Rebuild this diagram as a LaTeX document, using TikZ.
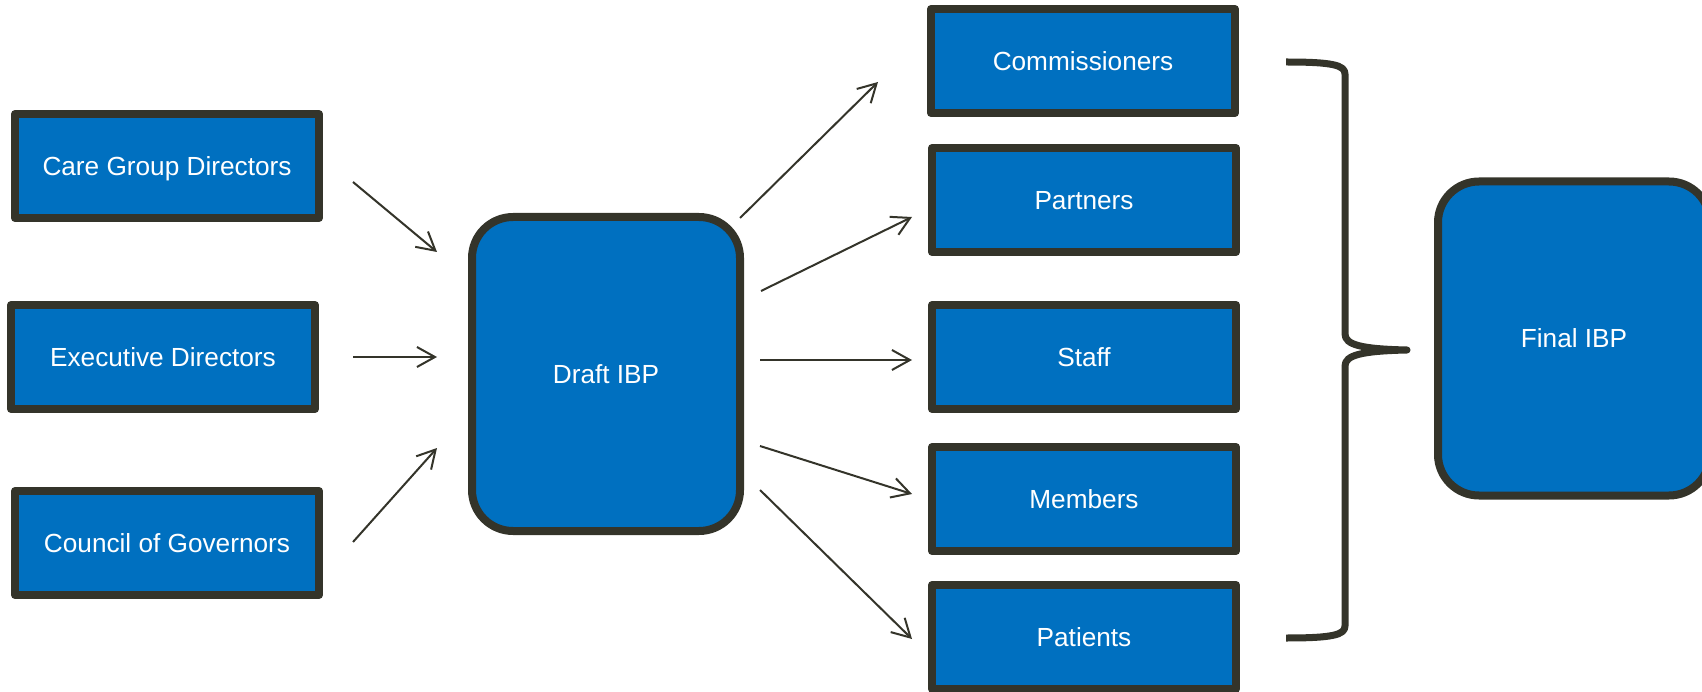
\documentclass[tikz,border=0pt]{standalone}
\usepackage{fontspec}
\setmainfont{Liberation Sans}
\usetikzlibrary{arrows.meta}
\definecolor{boxblue}{RGB}{0,112,192}
\definecolor{inkdark}{RGB}{52,52,42}

\begin{document}
\begin{tikzpicture}[x=1pt,y=-1pt,
  box/.style={draw=inkdark, fill=boxblue, line width=8pt, line join=round,
    minimum width=304pt, minimum height=104pt, inner sep=0pt,
    text=white, font=\fontsize{26.2}{30}\selectfont,
    text height=18.8pt, text depth=0pt},
  plan/.style={box, minimum width=268pt, minimum height=314pt, rounded corners=41pt},
  flow/.style={draw=inkdark, line width=2pt, -{Straight Barb[length=18pt,width=20pt]}},
  brace/.style={draw=inkdark, line width=7pt, line join=round, line cap=round}]

\useasboundingbox (0,0) rectangle (1702,692);
\clip (0,0) rectangle (1702,692);

% contributors
\node[box] (cg)  at (167,166) {Care Group Directors};
\node[box] (ed)  at (163,357) {Executive Directors};
\node[box] (cog) at (167,543) {Council of Governors};

% plans
\node[plan] (draft) at (606,374) {Draft IBP};
\node[plan, minimum width=272pt] (final) at (1574,338.5) {Final IBP};

% consultees
\node[box] (comm)  at (1083,61)  {Commissioners};
\node[box] (part)  at (1084,200) {Partners};
\node[box] (staff) at (1084,357) {Staff};
\node[box] (memb)  at (1084,499) {Members};
\node[box] (pat)   at (1084,637) {Patients};

% arrow end points
\coordinate (cgA)  at (353,182);  \coordinate (cgB)  at (437,252);
\coordinate (edA)  at (353,357);  \coordinate (edB)  at (437,357);
\coordinate (cogA) at (353,542);  \coordinate (cogB) at (437,448);
\coordinate (cmA)  at (740,218);  \coordinate (cmB)  at (878,82);
\coordinate (ptA)  at (761,291);  \coordinate (ptB)  at (912,217);
\coordinate (stA)  at (760,360);  \coordinate (stB)  at (912,360);
\coordinate (mbA)  at (760,446);  \coordinate (mbB)  at (912,494);
\coordinate (paA)  at (760,490);  \coordinate (paB)  at (912,639);

\draw[flow] (cgA) -- (cgB);
\draw[flow] (edA) -- (edB);
\draw[flow] (cogA) -- (cogB);
\draw[flow] (cmA) -- (cmB);
\draw[flow] (ptA) -- (ptB);
\draw[flow] (stA) -- (stB);
\draw[flow] (mbA) -- (mbB);
\draw[flow] (paA) -- (paB);

% brace gathering the consultees
\coordinate (brTop) at (1286,62);
\coordinate (brTip) at (1407,350);
\coordinate (brBot) at (1286,638);
\draw[brace, line cap=butt] (brTop) .. controls (1332,62) and (1345,65) .. (1345,74)
  -- (1345,334) .. controls (1345,345) and (1362,349) .. (brTip)
  .. controls (1362,351) and (1345,355) .. (1345,366)
  -- (1345,626) .. controls (1345,635) and (1332,638) .. (brBot);
\end{tikzpicture}
\end{document}
